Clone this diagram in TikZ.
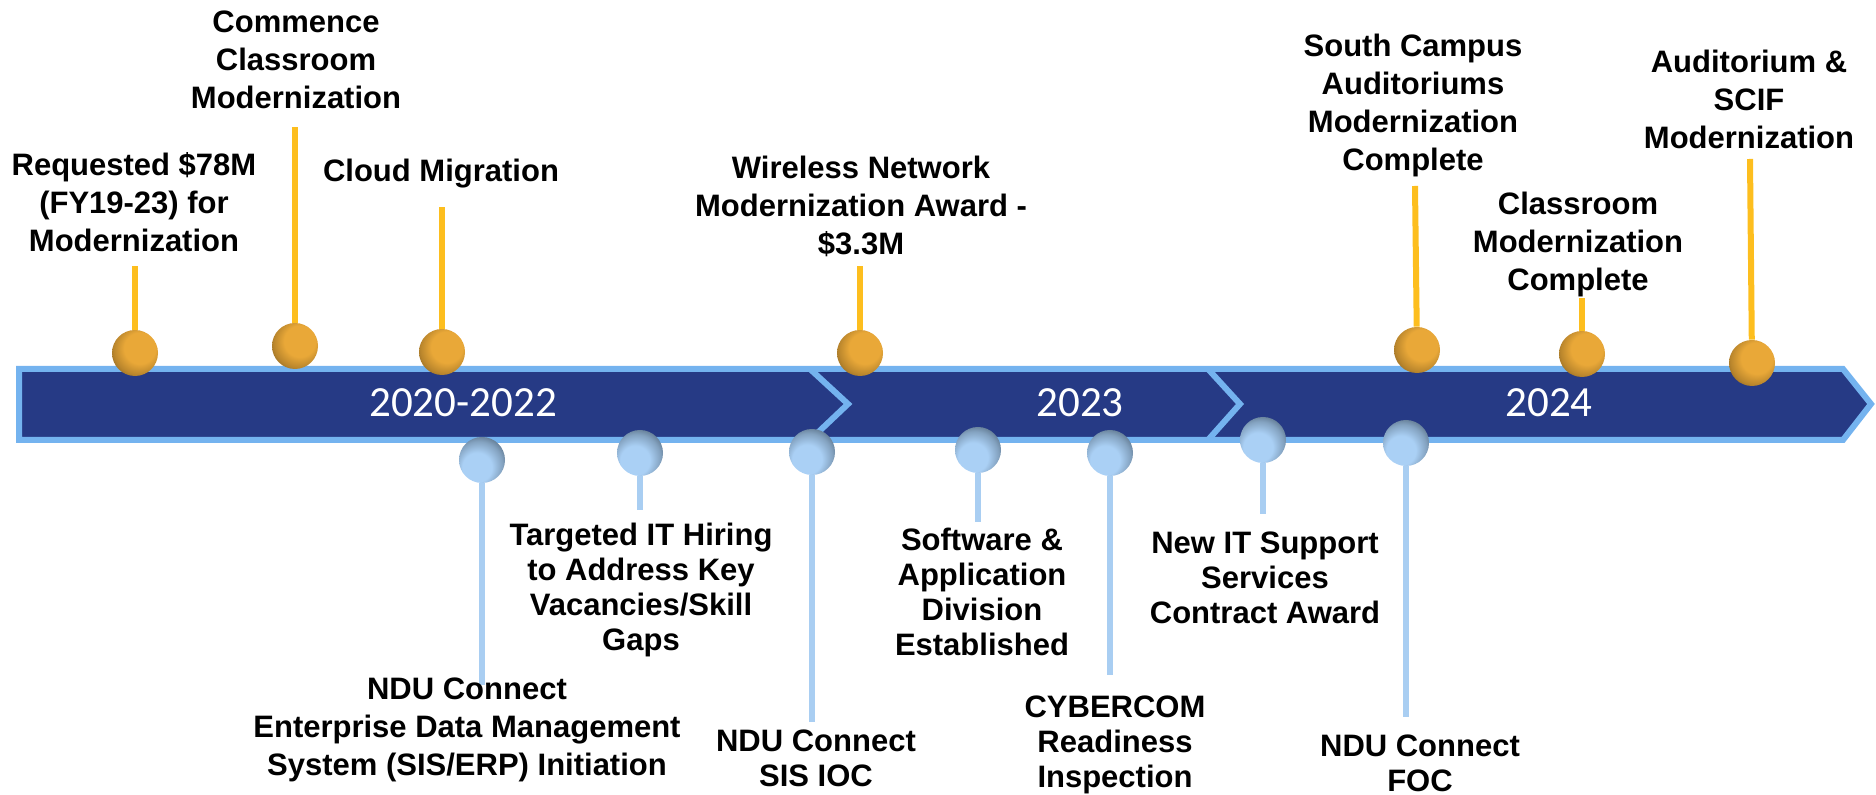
\documentclass[tikz,border=0pt]{standalone}
\usepackage{fontspec}
\setmainfont{Liberation Sans}
\newfontfamily\yearfont{Carlito}
\usepackage{tikz}
\definecolor{barblue}{HTML}{263A85}
\definecolor{barrim}{HTML}{74B3EF}
\definecolor{ballgold}{HTML}{E9A838}
\definecolor{stemgold}{HTML}{FDBE1E}
\definecolor{ballblue}{HTML}{AAD0F5}
\definecolor{bluerim}{HTML}{546A7F}
\definecolor{stemblue}{HTML}{A9CEF2}
\pgfdeclareradialshading{goldball}{\pgfqpoint{8bp}{8bp}}{color(0bp)=(ballgold); color(17bp)=(ballgold); color(27bp)=(ballgold!80!black); color(35bp)=(ballgold!55!black); color(50bp)=(ballgold!50!black)}
\pgfdeclareradialshading{blueball}{\pgfqpoint{-8bp}{-12bp}}{color(0bp)=(ballblue); color(16bp)=(ballblue); color(26bp)=(ballblue!55!bluerim); color(34bp)=(bluerim); color(50bp)=(bluerim!80!black)}
\tikzset{
	goldpin/.style={circle, minimum size=23pt, inner sep=0pt, shade, shading=goldball},
	bluepin/.style={circle, minimum size=23pt, inner sep=0pt, shade, shading=blueball},
	goldstem/.style={draw=stemgold, line width=3pt},
	bluestem/.style={draw=stemblue, line width=3.2pt},
	toplabel/.style={align=center, font=\bfseries\fontsize{15.5}{19}\selectfont},
	lowlabel/.style={align=center, font=\bfseries\fontsize{15.5}{17.5}\selectfont},
	yearlabel/.style={text=white, inner sep=0pt, font=\yearfont\fontsize{21.5}{24}\selectfont}
}
\begin{document}
\begin{tikzpicture}[x=0.5pt,y=-0.5pt]
\useasboundingbox (0,0) rectangle (1876,795);

	% timeline bar
	\draw[barrim, fill=barblue, line width=3pt, line join=miter] (19,369) -- (1843,369) -- (1871,404) -- (1843,440) -- (19,440) -- cycle;
	\draw[barrim, line width=3pt] (810,369) -- (848,404) -- (810,440);
	\draw[barrim, line width=3pt] (1208,369) -- (1240,404) -- (1208,440);
		\node[yearlabel] (y1) at (463,403){2020-2022};
		\node[yearlabel] (y2) at (1080,403){2023};
		\node[yearlabel] (y3) at (1549,403){2024};

	% events above
	\node[goldpin] (up1) at (135,353){};
	\node[goldpin] (up2) at (295,346){};
	\node[goldpin] (up3) at (442,352){};
	\node[goldpin] (up4) at (860,353){};
	\node[goldpin] (up5) at (1417,350){};
	\node[goldpin] (up6) at (1582,354){};
	\node[goldpin] (up7) at (1752,363){};
	\coordinate (up1end) at (135,266);
	\coordinate (up2end) at (295,127);
	\coordinate (up3end) at (442,207);
	\coordinate (up4end) at (860,266);
	\coordinate (up5end) at (1415,186);
	\coordinate (up6end) at (1582,298);
	\coordinate (up7end) at (1750,159);
\draw[goldstem] (up1) -- (up1end);
\draw[goldstem] (up2) -- (up2end);
\draw[goldstem] (up3) -- (up3end);
\draw[goldstem] (up4) -- (up4end);
\draw[goldstem] (up5) -- (up5end);
\draw[goldstem] (up6) -- (up6end);
\draw[goldstem] (up7) -- (up7end);
		\node[toplabel] (req) at (134,202){Requested \$78M\\(FY19-23) for\\Modernization};
		\node[toplabel] (commence) at (296,60){Commence\\Classroom\\Modernization};
		\node[toplabel] (cloud) at (441,174){Cloud Migration};
		\node[toplabel] (wireless) at (861,206){Wireless Network\\Modernization Award -\\\$3.3M};
		\node[toplabel] (south) at (1413,105){South Campus\\Auditoriums\\Modernization\\Complete};
		\node[toplabel] (classdone) at (1578,244){Classroom\\Modernization\\Complete};
		\node[toplabel] (scif) at (1749,99){Auditorium \&\\SCIF\\Modernization};

	% events below
	\node[bluepin] (dn1) at (482,460){};
	\node[bluepin] (dn2) at (640,453){};
	\node[bluepin] (dn3) at (812,452){};
	\node[bluepin] (dn4) at (978,450){};
	\node[bluepin] (dn5) at (1110,453){};
	\node[bluepin] (dn6) at (1263,440){};
	\node[bluepin] (dn7) at (1406,443){};
	\coordinate (dn1end) at (482,685);
	\coordinate (dn2end) at (640,510);
	\coordinate (dn3end) at (812,722);
	\coordinate (dn4end) at (978,522);
	\coordinate (dn5end) at (1110,675);
	\coordinate (dn6end) at (1263,514);
	\coordinate (dn7end) at (1406,717);
\draw[bluestem] (dn1) -- (dn1end);
\draw[bluestem] (dn2) -- (dn2end);
\draw[bluestem] (dn3) -- (dn3end);
\draw[bluestem] (dn4) -- (dn4end);
\draw[bluestem] (dn5) -- (dn5end);
\draw[bluestem] (dn6) -- (dn6end);
\draw[bluestem] (dn7) -- (dn7end);
		\node[toplabel] (edm) at (467,730){NDU Connect\\Enterprise Data Management\\System (SIS/ERP) Initiation};
		\node[lowlabel] (hiring) at (641,590){Targeted IT Hiring\\to Address Key\\Vacancies/Skill\\Gaps};
		\node[lowlabel] (ioc) at (816,758){NDU Connect\\SIS IOC};
		\node[lowlabel] (software) at (982,592){Software \&\\Application\\Division\\Established};
		\node[lowlabel] (cyber) at (1115,745){CYBERCOM\\Readiness\\Inspection};
		\node[lowlabel] (support) at (1265,578){New IT Support\\Services\\Contract Award};
		\node[lowlabel] (foc) at (1420,763){NDU Connect\\FOC};
\end{tikzpicture}
\end{document}
